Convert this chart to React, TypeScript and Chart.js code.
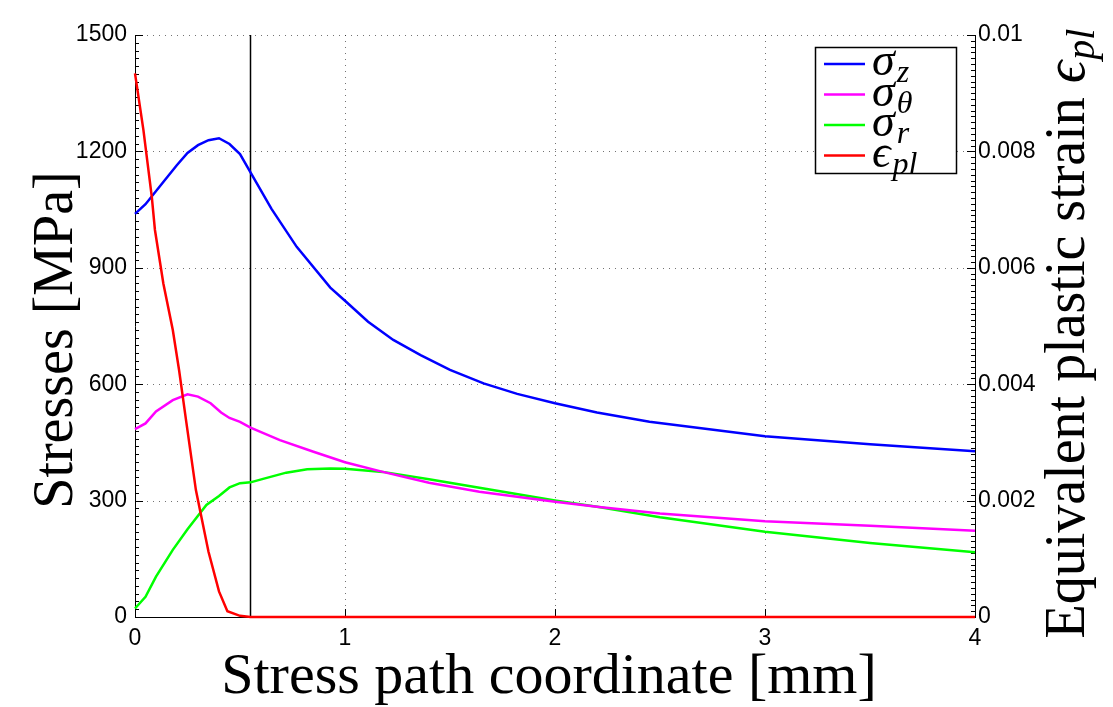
import React, { useEffect, useRef } from 'react';
import { Chart, registerables } from 'chart.js';

Chart.register(...registerables);

// ---- data ----
const xTicks = [0, 1, 2, 3, 4];
const stressTicks = [0, 300, 600, 900, 1200, 1500];
const strainTicks = [0, 0.002, 0.004, 0.006, 0.008, 0.01];

const sigmaZX = [0, 0.05, 0.13, 0.2, 0.25, 0.3, 0.35, 0.4, 0.45, 0.5, 0.55, 0.65, 0.77, 0.93, 1.0, 1.11, 1.23, 1.36, 1.5, 1.66, 1.82, 2.0, 2.2, 2.45, 3.0, 3.5, 4.0];
const sigmaZ = [1039, 1064, 1118, 1165, 1196, 1216, 1229, 1234, 1219, 1193, 1146, 1052, 954, 849, 815, 761, 714, 675, 637, 602, 575, 551, 527, 503, 466, 445, 427];

const sigmaThX = [0, 0.05, 0.1, 0.18, 0.25, 0.3, 0.36, 0.41, 0.45, 0.5, 0.55, 0.69, 0.85, 1.0, 1.18, 1.4, 1.64, 2.0, 2.2, 2.5, 3.0, 3.5, 4.0];
const sigmaTh = [484, 499, 530, 559, 574, 568, 551, 527, 513, 503, 488, 456, 426, 399, 374, 346, 323, 297, 284, 267, 247, 235, 222];

const sigmaRX = [0, 0.05, 0.1, 0.18, 0.25, 0.34, 0.4, 0.45, 0.5, 0.55, 0.61, 0.72, 0.82, 0.93, 1.0, 1.18, 1.4, 1.64, 2.0, 2.2, 2.5, 3.0, 3.5, 4.0];
const sigmaR = [22, 52, 104, 173, 226, 289, 312, 334, 345, 347, 356, 372, 381, 383, 382, 374, 355, 333, 300, 284, 257, 220, 191, 167];

const epsX = [0, 0.04, 0.08, 0.095, 0.135, 0.18, 0.21, 0.245, 0.29, 0.35, 0.4, 0.44, 0.5, 0.55, 4.0];
const epsPl = [0.00934, 0.00837, 0.00722, 0.00665, 0.00573, 0.00493, 0.00424, 0.00333, 0.00218, 0.00112, 0.00044, 0.0001, 0.00002, 0, 0];

const markerX = [0.55, 0.55];
const markerY = [0, 1500];

const legendBase = ['σ', 'σ', 'σ', 'ϵ'];
const legendSub = ['z', 'θ', 'r', 'pl'];
const legendColors = ['#0000ff', '#ff00ff', '#00ff00', '#ff0000'];

const xTitle = 'Stress path coordinate [mm]';
const yTitle = 'Stresses [MPa]';
const y2Title = 'Equivalent plastic strain ';

const pts = (xs: number[], ys: number[]) => xs.map((x, i) => ({ x, y: ys[i] }));

const SERIF = '"Liberation Serif", "DejaVu Serif", serif';
const SANS = '"Liberation Sans", Arial, Helvetica, sans-serif';

const decor = {
  id: 'decor',
  beforeDatasetsDraw(chart: any) {
    const { ctx, chartArea: a, scales } = chart;
    const sx = scales.x, sy = scales.y, sy2 = scales.y2;
    ctx.save();
    // dotted grid
    ctx.strokeStyle = 'rgba(0,0,0,0.55)';
    ctx.lineWidth = 1;
    ctx.setLineDash([1, 5]);
    for (const t of xTicks) {
      if (t <= xTicks[0] || t >= xTicks[xTicks.length - 1]) continue;
      const px = Math.round(sx.getPixelForValue(t)) + 0.5;
      ctx.beginPath(); ctx.moveTo(px, a.top); ctx.lineTo(px, a.bottom); ctx.stroke();
    }
    for (const t of stressTicks) {
      if (t <= stressTicks[0]) continue;
      const py = Math.round(sy.getPixelForValue(t)) + 0.5;
      ctx.beginPath(); ctx.moveTo(a.left, py); ctx.lineTo(a.right, py); ctx.stroke();
    }
    ctx.setLineDash([]);
    // tick marks (inward)
    ctx.strokeStyle = '#000';
    ctx.lineWidth = 1;
    const L = 8, m = 4;
    for (const t of stressTicks) {
      const py = Math.round(sy.getPixelForValue(t)) + 0.5;
      ctx.beginPath(); ctx.moveTo(a.left, py); ctx.lineTo(a.left + L, py); ctx.stroke();
    }
    for (let v = 0; v <= 1500; v += 20) {
      const py = Math.round(sy.getPixelForValue(v)) + 0.5;
      ctx.beginPath(); ctx.moveTo(a.left, py); ctx.lineTo(a.left + m, py); ctx.stroke();
    }
    for (const t of strainTicks) {
      const py = Math.round(sy2.getPixelForValue(t)) + 0.5;
      ctx.beginPath(); ctx.moveTo(a.right, py); ctx.lineTo(a.right - L, py); ctx.stroke();
    }
    for (let k = 0; k <= 100; k++) {
      const py = Math.round(sy2.getPixelForValue(k * 0.0001)) + 0.5;
      ctx.beginPath(); ctx.moveTo(a.right, py); ctx.lineTo(a.right - m, py); ctx.stroke();
    }
    for (const t of xTicks) {
      const px = Math.round(sx.getPixelForValue(t)) + 0.5;
      ctx.beginPath(); ctx.moveTo(px, a.bottom); ctx.lineTo(px, a.bottom - L); ctx.stroke();
    }
    ctx.restore();
  },
  afterDraw(chart: any) {
    const { ctx, chartArea: a } = chart;
    ctx.save();
    ctx.fillStyle = '#000';
    // x title
    ctx.font = `58px ${SERIF}`;
    ctx.textAlign = 'center';
    ctx.textBaseline = 'alphabetic';
    ctx.fillText(xTitle, (a.left + a.right) / 2 - 6, 693);
    // left title
    ctx.save();
    ctx.translate(72, 340);
    ctx.rotate(-Math.PI / 2);
    ctx.font = `56px ${SERIF}`;
    ctx.textAlign = 'center';
    ctx.fillText(yTitle, 0, 0);
    ctx.restore();
    // right title
    ctx.save();
    ctx.translate(1084, 334);
    ctx.rotate(-Math.PI / 2);
    ctx.textAlign = 'left';
    ctx.font = `56px ${SERIF}`;
    const w1 = ctx.measureText(y2Title).width;
    ctx.font = `italic 56px ${SERIF}`;
    const w2 = ctx.measureText('ϵ').width;
    ctx.font = `italic 40px ${SERIF}`;
    const w3 = ctx.measureText('pl').width;
    const start = -(w1 + w2 + w3) / 2;
    ctx.font = `56px ${SERIF}`;
    ctx.fillText(y2Title, start, 0);
    ctx.font = `italic 56px ${SERIF}`;
    ctx.fillText('ϵ', start + w1, 0);
    ctx.font = `italic 40px ${SERIF}`;
    ctx.fillText('pl', start + w1 + w2 + 1, 10);
    ctx.restore();
    // legend
    const bx = a.right - 160, by = a.top + 12, bw = 141, bh = 126;
    ctx.fillStyle = '#fff';
    ctx.fillRect(bx, by, bw, bh);
    ctx.strokeStyle = '#000';
    ctx.lineWidth = 1.5;
    ctx.strokeRect(bx + 0.5, by + 0.5, bw, bh);
    for (let i = 0; i < legendBase.length; i++) {
      const ly = by + 17 + i * 30.5;
      ctx.strokeStyle = legendColors[i];
      ctx.lineWidth = 2.5;
      ctx.beginPath(); ctx.moveTo(bx + 9, ly); ctx.lineTo(bx + 50, ly); ctx.stroke();
      ctx.fillStyle = '#000';
      ctx.textAlign = 'left';
      ctx.font = `italic 46px ${SERIF}`;
      ctx.fillText(legendBase[i], bx + 57, ly + 11);
      const wb = ctx.measureText(legendBase[i]).width;
      ctx.font = `italic 32px ${SERIF}`;
      ctx.fillText(legendSub[i], bx + 57 + wb + 2, ly + 18);
    }
    ctx.restore();
  },
};

export default function App() {
  const ref = useRef<HTMLCanvasElement | null>(null);
  useEffect(() => {
    document.body.style.margin = '0';
    const canvas = ref.current;
    if (!canvas) return;
    const lineDs = (data: any[], color: string, axis: string, width = 2.5) => ({
      data,
      borderColor: color,
      backgroundColor: color,
      borderWidth: width,
      pointRadius: 0,
      tension: 0,
      fill: false,
      yAxisID: axis,
      clip: false as any,
    });
    const chart = new Chart(canvas, {
      type: 'line',
      data: {
        datasets: [
          lineDs(pts(epsX, epsPl), '#ff0000', 'y2'),
          lineDs(pts(sigmaZX, sigmaZ), '#0000ff', 'y'),
          lineDs(pts(sigmaThX, sigmaTh), '#ff00ff', 'y'),
          lineDs(pts(sigmaRX, sigmaR), '#00ff00', 'y'),
          lineDs(pts(markerX, markerY), '#000000', 'y', 1.5),
        ],
      },
      options: {
        animation: false,
        responsive: true,
        maintainAspectRatio: false,
        layout: { padding: { top: 35, left: 0, right: 0, bottom: 0 } },
        plugins: { legend: { display: false }, tooltip: { enabled: false } },
        scales: {
          x: {
            type: 'linear',
            position: 'bottom',
            min: 0,
            max: 4,
            afterBuildTicks: (s: any) => { s.ticks = xTicks.map((v) => ({ value: v })); },
            ticks: { color: '#000', font: { family: SANS, size: 23 }, padding: 8, callback: (v: any) => String(v) },
            grid: { display: false, drawTicks: false },
            border: { display: true, color: '#000', width: 1 },
            afterFit: (s: any) => { s.height = 90; },
          },
          y: {
            type: 'linear',
            position: 'left',
            min: 0,
            max: 1500,
            afterBuildTicks: (s: any) => { s.ticks = stressTicks.map((v) => ({ value: v })); },
            ticks: { color: '#000', font: { family: SANS, size: 23 }, padding: 8, callback: (v: any) => String(v) },
            grid: { display: false, drawTicks: false },
            border: { display: true, color: '#000', width: 1 },
            afterFit: (s: any) => { s.width = 135; },
          },
          y2: {
            type: 'linear',
            position: 'right',
            min: 0,
            max: 0.01,
            afterBuildTicks: (s: any) => { s.ticks = strainTicks.map((v) => ({ value: v })); },
            ticks: { color: '#000', font: { family: SANS, size: 23 }, padding: 3, callback: (v: any) => String(v) },
            grid: { display: false, drawTicks: false },
            border: { display: true, color: '#000', width: 1 },
            afterFit: (s: any) => { s.width = 138; },
          },
        },
      },
      plugins: [decor],
    });
    return () => chart.destroy();
  }, []);
  return (
    <div style={{ position: 'relative', width: 1113, height: 707 }}>
      <canvas ref={ref} />
    </div>
  );
}
